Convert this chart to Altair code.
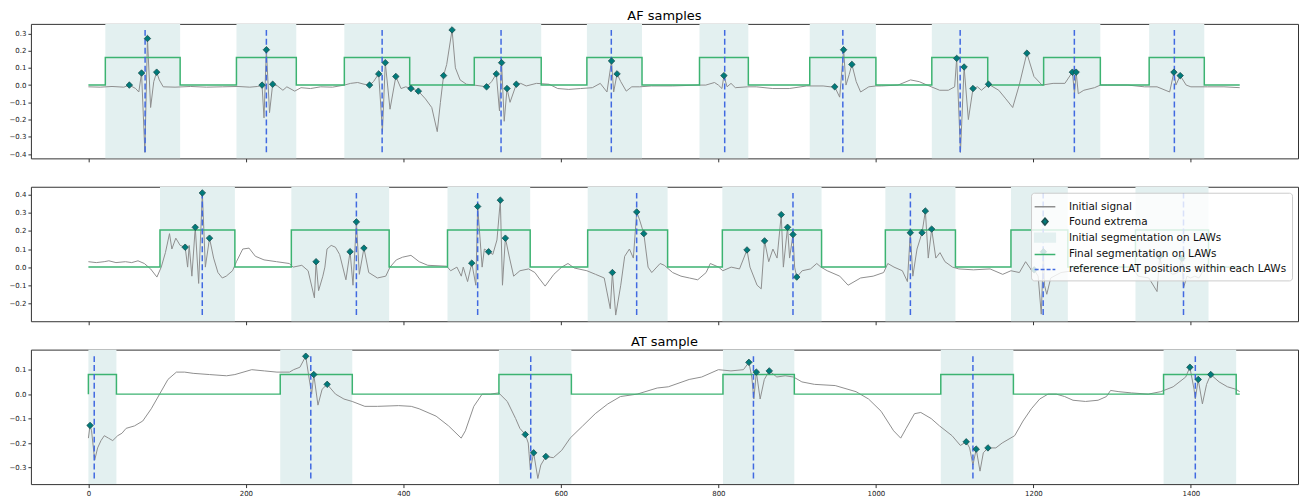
import altair as alt
import pandas as pd

# ---------------- shared axis settings ----------------
X_DOMAIN = [-73, 1536]
X_TICKS = [0, 200, 400, 600, 800, 1000, 1200, 1400]
SIG_END = 1462

# ---------------- panel 1 : AF samples ----------------
p1_sig_x = [0, 15, 30, 45, 52, 60, 64, 67.5, 71.7, 75, 79, 83, 86.7, 90, 95, 110, 130, 150, 170, 190, 205, 215,
            220.5, 223, 226, 230, 234, 240, 247, 252, 262, 270, 282, 295, 310, 325, 333, 342, 350, 357, 362,
            368.6, 373.4, 377, 383, 390.4, 397, 403, 409.6, 419, 428, 436, 443, 447, 451, 455, 461.8, 466, 472,
            480, 490, 505.6, 512, 518, 522, 524.7, 528, 531.6, 535.4, 543.4, 549, 556, 569, 585, 596, 610, 625,
            640, 650, 658.5, 664.3, 667, 671.3, 676, 683, 690, 700, 715, 742, 774, 784, 795, 800, 804.5, 807,
            811, 816, 821.5, 837, 848, 869, 890, 912, 933, 942, 947.7, 954, 959, 962, 966, 969.5, 975, 980.6,
            991, 1000, 1007, 1028, 1044, 1055, 1065, 1081, 1092, 1100, 1102.6, 1107.4, 1112, 1117.4, 1123.3,
            1129, 1134, 1143, 1156, 1165, 1173.7, 1182, 1191.7, 1200.7, 1211, 1225, 1240, 1249.5, 1252.2,
            1254.3, 1257, 1264, 1277.6, 1285, 1294, 1320, 1341, 1357, 1373, 1378.4, 1381, 1386.4, 1394, 1400,
            1421, 1442, 1462]
p1_sig_y = [-0.01, -0.012, -0.008, -0.012, 0.0, -0.02, -0.04, 0.07, -0.39, 0.27, -0.13, 0.02, 0.075, 0.03, -0.01,
            -0.012, -0.008, -0.012, -0.01, -0.008, -0.012, -0.008, 0.0, -0.19, 0.205, -0.16, 0.005, -0.005,
            -0.03, -0.01, -0.035, -0.015, -0.02, -0.01, -0.012, 0.0, 0.01, 0.015, 0.005, 0.0, 0.02, 0.065,
            -0.27, 0.13, -0.14, 0.05, -0.02, -0.01, -0.02, -0.035, -0.08, -0.13, -0.27, -0.1, 0.055, 0.12, 0.32,
            0.1, 0.03, 0.005, 0.0, -0.01, 0.02, 0.065, -0.15, 0.13, -0.21, -0.02, -0.1, 0.005, 0.01, -0.005,
            0.01, 0.005, -0.02, -0.025, -0.02, -0.015, 0.01, -0.04, 0.14, -0.04, 0.065, 0.02, -0.035, -0.01,
            -0.01, -0.005, -0.005, 0.0, 0.0, 0.015, 0.0, -0.02, 0.055, -0.01, 0.01, -0.015, -0.01, -0.01,
            -0.02, -0.02, -0.005, -0.005, -0.01, -0.01, -0.07, 0.205, 0.0, 0.06, 0.12, 0.02, -0.04, -0.01,
            -0.005, -0.005, 0.0, 0.03, 0.02, 0.0, -0.03, -0.03, -0.01, 0.155, -0.39, 0.105, -0.2, -0.02, -0.01,
            -0.03, 0.005, -0.03, -0.08, -0.13, 0.0, 0.185, 0.05, 0.0, 0.01, 0.01, 0.075, -0.05, 0.075, -0.05,
            -0.03, -0.015, 0.0, 0.0, 0.0, -0.01, -0.01, -0.04, 0.075, 0.0, 0.055, 0.0, -0.01, -0.01, -0.01,
            -0.015]
p1_ext_x = [52, 67.5, 75, 86.7, 220.5, 226, 234, 357, 368.6, 377, 390.4, 409.6, 419, 451, 461.8, 505.6, 518,
            524.7, 531.6, 543.4, 664.3, 671.3, 807, 947.7, 959, 969.5, 1102.6, 1112, 1123.3, 1143, 1191.7,
            1249.5, 1254.3, 1378.4, 1386.4]
p1_ext_y = [0.0, 0.07, 0.27, 0.075, 0.0, 0.205, 0.005, 0.0, 0.065, 0.13, 0.05, -0.02, -0.035, 0.055, 0.32,
            -0.01, 0.065, 0.13, -0.02, 0.005, 0.14, 0.065, 0.055, -0.01, 0.205, 0.12, 0.155, 0.105, -0.02,
            0.005, 0.185, 0.075, 0.075, 0.075, 0.055]
p1_shade_start = [21.5, 188, 325, 633, 776, 916, 1071, 1347]
p1_shade_end = [116.5, 264, 575, 703, 838, 1000, 1285, 1417]
p1_seg_start = [21.5, 188, 325, 490, 633, 776, 916, 1071, 1213, 1347]
p1_seg_end = [116.5, 264, 408, 575, 703, 838, 1000, 1142, 1285, 1417]
p1_seg_high = 0.16
p1_lat = [72, 226, 373, 524, 664, 808, 958, 1107, 1252, 1379]
p1_y_domain = [-0.425, 0.355]
p1_y_ticks = [-0.4, -0.3, -0.2, -0.1, 0.0, 0.1, 0.2, 0.3]

# ---------------- panel 2 ----------------
p2_sig_x = [0, 10, 20, 26, 35, 47, 55, 63, 71, 79, 87, 92.5, 97.8, 103, 106, 111, 116.5, 122.9, 126, 128, 131.4,
            135.7, 140, 144.7, 148.5, 153.8, 159, 164.5, 170, 175, 183, 188, 196, 204, 212, 223, 239, 255, 260,
            271, 279, 287, 289.1, 292.3, 297.7, 300.3, 303, 308.3, 313.7, 319, 327, 332.3, 336, 340.3, 344,
            349.9, 356, 367, 377.6, 383, 391, 399, 409.6, 420, 431, 455, 460, 468, 473.5, 476, 481.5, 486.8,
            492, 494.3, 500, 502.8, 508.2, 513.5, 518.8, 523.1, 525.8, 529.5, 534.8, 540, 548, 559, 567, 572,
            580, 591, 601, 609, 617, 633, 644, 655, 662.7, 665.4, 669.6, 676, 681, 687, 692, 696.3, 700, 705.3,
            710.7, 715.4, 726, 731.3, 741.9, 752.5, 763.1, 773.7, 784.4, 789.7, 800.3, 805.6, 816.2, 826.8,
            836.3, 840.1, 849.1, 854.4, 858.6, 863.9, 869.2, 874.5, 879.8, 882.5, 887.8, 890.4, 894.7, 896.8,
            899.5, 906.4, 917, 924.9, 930.2, 938.2, 954.1, 964.7, 980.6, 996.5, 1009.8, 1015.1, 1023, 1033.6,
            1040, 1043.7, 1046.9, 1052.2, 1058.6, 1062.8, 1066.5, 1070.8, 1076.1, 1081.4, 1087.7, 1097.3,
            1105.3, 1123.8, 1145, 1161, 1171.5, 1182.2, 1190.1, 1198.1, 1201, 1206, 1210, 1212.7, 1214, 1217,
            1222, 1235, 1250, 1270, 1290, 1310, 1325, 1333, 1346.6, 1357, 1360.3, 1364, 1370.4, 1377, 1383.7,
            1388.5, 1390.6, 1395, 1399.6, 1405, 1410.2, 1417, 1426, 1440, 1452.7, 1462]
p2_sig_y = [0.03, 0.025, 0.03, 0.035, 0.025, 0.03, 0.025, 0.035, 0.02, -0.01, -0.055, 0.0, 0.08, 0.185, 0.1, 0.16,
            0.12, 0.11, 0.0, 0.12, -0.05, 0.22, -0.09, 0.41, 0.0, 0.16, 0.05, -0.03, -0.06, -0.05, -0.02, 0.03,
            0.1, 0.105, 0.06, 0.04, 0.03, 0.02, 0.0, 0.01, -0.02, -0.17, 0.03, -0.13, -0.05, 0.0, 0.1, 0.12,
            0.11, 0.07, -0.07, 0.085, -0.1, 0.25, -0.04, 0.105, -0.03, -0.06, -0.05, 0.0, 0.04, 0.055, 0.065,
            0.03, 0.01, 0.005, -0.02, 0.0, -0.05, 0.0, -0.08, 0.022, -0.1, 0.335, 0.0, 0.1, 0.085, 0.07, 0.15,
            0.37, -0.1, 0.16, 0.05, -0.05, -0.02, -0.01, -0.03, -0.06, -0.105, -0.04, 0.0, 0.02, -0.005, -0.02,
            -0.04, -0.06, -0.23, -0.03, -0.265, -0.1, 0.06, 0.1, 0.05, 0.305, 0.26, 0.185, 0.0, -0.03, 0.02,
            0.01, -0.03, -0.05, -0.06, -0.07, -0.03, 0.02, 0.0, -0.02, 0.0, -0.01, 0.095, 0.0, -0.1, -0.12,
            0.145, 0.03, 0.1, 0.05, 0.29, 0.0, 0.22, 0.05, 0.18, 0.0, -0.055, -0.02, -0.01, 0.02, 0.0, -0.02,
            -0.05, -0.1, -0.06, -0.05, -0.03, 0.02, 0.0, -0.02, -0.08, 0.19, -0.05, 0.1, 0.19, 0.31, 0.05,
            0.21, 0.05, 0.08, 0.03, 0.0, -0.01, -0.015, -0.01, -0.04, -0.02, -0.03, 0.03, -0.02, -0.015,
            -0.05, -0.26, 0.085, -0.1, -0.15, -0.06, -0.03, -0.02, -0.03, -0.01, 0.0, 0.0, -0.05, -0.06,
            -0.135, 0.058, -0.015, -0.02, -0.04, -0.03, 0.049, -0.115, -0.05, -0.06, -0.05, -0.06, -0.01,
            0.0, 0.0, 0.0, -0.03]
p2_ext_x = [122.9, 135.7, 144.7, 153.8, 289.1, 332.3, 340.3, 349.9, 486.8, 494.3, 508.2, 523.1, 529.5, 665.4,
            696.3, 705.3, 836.3, 858.6, 879.8, 887.8, 894.7, 899.5, 1043.7, 1058.6, 1062.8, 1070.8, 1201,
            1212.7, 1360.3, 1388.5]
p2_ext_y = [0.11, 0.22, 0.41, 0.16, 0.03, 0.085, 0.25, 0.105, 0.022, 0.335, 0.085, 0.37, 0.16, -0.03, 0.305,
            0.185, 0.095, 0.145, 0.29, 0.22, 0.18, -0.055, 0.19, 0.19, 0.31, 0.21, -0.015, 0.085, 0.058, 0.049]
p2_shade_start = [90.9, 257.7, 456, 634, 805, 1012, 1171.5, 1329.6]
p2_shade_end = [186, 381.9, 561, 735.5, 931, 1101, 1243.7, 1422.4]
p2_seg_start = p2_shade_start
p2_seg_end = p2_shade_end
p2_seg_high = 0.205
p2_lat = [144.6, 340.3, 494.3, 696.2, 894.7, 1043.8, 1212.4, 1390.6]
p2_y_domain = [-0.299, 0.444]
p2_y_ticks = [-0.2, -0.1, 0.0, 0.1, 0.2, 0.3, 0.4]

# ---------------- panel 3 : AT sample ----------------
p3_sig_x = [0, 2.1, 4, 8, 11.7, 16, 20.2, 25.5, 30.9, 37.2, 42.6, 47.9, 58.5, 69, 79.8, 90.4, 101, 111.7, 122.3,
            133, 154, 175.5, 186, 207.4, 223.4, 239.4, 255.3, 260.6, 268.6, 276, 280, 283.5, 286.2, 291.5,
            296.8, 303.2, 313.8, 324.5, 335, 351, 367, 394, 410, 420, 441.5, 457.4, 473.4, 478.7, 489.4, 500,
            510.6, 521, 531.9, 542.5, 547.9, 554.8, 558.5, 561.2, 565.4, 570.7, 574.5, 580.9, 590.4, 601, 611.7,
            627.7, 643.6, 659.6, 675.5, 696.8, 722.3, 736.4, 762.9, 778.8, 800, 815.9, 831.8, 838.7, 842.4,
            845, 848.2, 853, 858.3, 864.6, 874.2, 884.8, 895.4, 906, 921.9, 948.3, 974.8, 990.7, 1006.6,
            1022.5, 1031.5, 1038.4, 1049, 1057, 1070.2, 1080.8, 1096.7, 1107.3, 1114.7, 1119, 1123.2, 1127.4,
            1132.2, 1136.4, 1142.3, 1152.3, 1160.3, 1176.2, 1186.8, 1197.4, 1208, 1218.5, 1229.1, 1239.7,
            1250.3, 1266.2, 1282.1, 1292.7, 1298, 1308.6, 1324.5, 1345.7, 1361.6, 1377.5, 1393.4, 1398.7,
            1404, 1405.6, 1409.3, 1414.6, 1419.9, 1425.2, 1435.8, 1446.4, 1457, 1462]
p3_sig_y = [-0.18, -0.128, -0.15, -0.27, -0.22, -0.19, -0.17, -0.18, -0.19, -0.17, -0.16, -0.14, -0.13, -0.11,
            -0.06, 0.0, 0.06, 0.09, 0.09, 0.085, 0.08, 0.075, 0.08, 0.1, 0.095, 0.09, 0.09, 0.1, 0.11, 0.155,
            0.07, 0.0, 0.08, -0.045, 0.02, 0.04, 0.0, -0.02, -0.03, -0.05, -0.05, -0.047, -0.05, -0.06, -0.09,
            -0.13, -0.18, -0.15, -0.05, 0.0, 0.0, 0.005, -0.03, -0.1, -0.14, -0.165, -0.2, -0.31, -0.24, -0.345,
            -0.29, -0.255, -0.26, -0.23, -0.18, -0.13, -0.08, -0.04, -0.01, 0.0, 0.025, 0.03, 0.06, 0.07, 0.1,
            0.095, 0.1, 0.13, 0.07, -0.02, 0.09, -0.02, 0.06, 0.095, 0.07, 0.075, 0.07, 0.05, 0.04, 0.035, 0.01,
            -0.02, -0.07, -0.15, -0.18, -0.14, -0.08, -0.075, -0.1, -0.13, -0.17, -0.21, -0.195, -0.22, -0.29,
            -0.225, -0.315, -0.24, -0.22, -0.22, -0.2, -0.17, -0.11, -0.06, -0.02, 0.0, 0.0, -0.01, -0.025,
            -0.03, -0.025, -0.01, 0.015, 0.01, 0.005, 0.0, 0.01, 0.03, 0.07, 0.11, 0.02, -0.02, 0.06, -0.04,
            0.04, 0.08, 0.05, 0.03, 0.02, 0.01]
p3_ext_x = [2.1, 276, 286.2, 303.2, 554.8, 565.4, 580.9, 838.7, 848.2, 864.6, 1114.7, 1127.4, 1142.3, 1398.7,
            1409.3, 1425.2]
p3_ext_y = [-0.128, 0.155, 0.08, 0.04, -0.165, -0.24, -0.255, 0.13, 0.09, 0.095, -0.195, -0.225, -0.22, 0.11,
            0.06, 0.08]
p3_shade_start = [0, 243.6, 521.3, 805.8, 1082.4, 1365.3]
p3_shade_end = [35.6, 335.1, 613.3, 896.4, 1174.6, 1457.5]
p3_seg_start = p3_shade_start
p3_seg_end = p3_shade_end
p3_seg_high = 0.08
p3_lat = [7.4, 282.4, 561.7, 844.5, 1123.2, 1405.6]
p3_y_domain = [-0.368, 0.182]
p3_y_ticks = [-0.3, -0.2, -0.1, 0.0, 0.1]

# ---------------- legend ----------------
LEG_LABELS = ["Initial signal", "Found extrema", "Initial segmentation on LAWs",
              "Final segmentation on LAWs", "reference LAT positions within each LAWs"]

SHADE = "#e3f0f0"
GREEN = "#3cb371"
BLUE = "#4169e1"
GRAY = "#8f8f8f"
TEAL = "#007b7b"
TEAL_EDGE = "#1d4f4f"

W, H = 1272, 135

LINE_PATH = "M-1.3,0H1.3"
DIAMOND_PATH = "M0,-0.45L0.38,0L0,0.45L-0.38,0Z"
RECT_PATH = "M-1.3,-0.55H1.3V0.55H-1.3Z"


def panel(sig_x, sig_y, ext_x, ext_y, sh_s, sh_e, seg_s, seg_e, high, lat, ydom, yticks,
          title=None, xlabels=False, legend=False):
    sig = pd.DataFrame({"x": sig_x, "y": sig_y})
    ext = pd.DataFrame({"x": ext_x, "y": ext_y})
    shade = pd.DataFrame({"s": sh_s, "e": sh_e})
    sx, sy = [0.0], [0.0]
    for s, e in zip(seg_s, seg_e):
        sx += [s, e]
        sy += [high, 0.0]
    sx.append(SIG_END)
    sy.append(0.0)
    step = pd.DataFrame({"x": sx, "y": sy})
    rules = pd.DataFrame({"x": lat, "lo": [min(sig_y)] * len(lat), "hi": [max(sig_y)] * len(lat)})

    xs = alt.Scale(domain=X_DOMAIN, nice=False, zero=False)
    ys = alt.Scale(domain=ydom, nice=False, zero=False)
    xax = alt.Axis(values=X_TICKS, labels=xlabels, title=None, grid=False, domain=False,
                   tickSize=3.5, labelPadding=2, labelFontSize=7, format="d")
    yax = alt.Axis(values=yticks, title=None, grid=False, domain=False, tickSize=3,
                   labelPadding=2, labelFontSize=7, format=".1f")

    X = lambda f: alt.X(f, type="quantitative", scale=xs, axis=xax)
    Y = lambda f: alt.Y(f, type="quantitative", scale=ys, axis=yax)

    l_shade = alt.Chart(shade).mark_rect(color=SHADE).encode(x=X("s"), x2="e")
    l_sig = alt.Chart(sig).mark_line(color=GRAY, strokeWidth=1).encode(x=X("x"), y=Y("y"))
    l_step = alt.Chart(step).mark_line(color=GREEN, strokeWidth=1.5, interpolate="step-after").encode(
        x=X("x"), y=Y("y"))
    l_rule = alt.Chart(rules).mark_rule(color=BLUE, strokeWidth=1.5, strokeDash=[6, 3]).encode(
        x=X("x"), y=Y("lo"), y2="hi")
    l_pts = alt.Chart(ext).mark_point(shape="diamond", filled=True, size=42, fill=TEAL, stroke=TEAL_EDGE,
                                      strokeWidth=0.8, opacity=1).encode(x=X("x"), y=Y("y"))
    layers = [l_shade, l_sig, l_step, l_rule, l_pts]

    if legend:
        leg = pd.DataFrame({"label": LEG_LABELS, "x": [-10000] * 5, "y": [0.0] * 5})
        lg = alt.Legend(title=None, orient="top-right", offset=6, labelLimit=400)
        l_leg = alt.Chart(leg).mark_point(clip=True, opacity=1, size=256, strokeWidth=1.5).encode(
            x=X("x"), y=Y("y"),
            fill=alt.Fill("label:N", legend=lg, sort=LEG_LABELS,
                          scale=alt.Scale(domain=LEG_LABELS,
                                          range=["transparent", TEAL, SHADE, "transparent", "transparent"])),
            stroke=alt.Stroke("label:N", legend=lg, sort=LEG_LABELS,
                              scale=alt.Scale(domain=LEG_LABELS,
                                              range=[GRAY, TEAL_EDGE, SHADE, GREEN, BLUE])),
            shape=alt.Shape("label:N", legend=lg, sort=LEG_LABELS,
                            scale=alt.Scale(domain=LEG_LABELS,
                                            range=[LINE_PATH, DIAMOND_PATH, RECT_PATH, LINE_PATH, LINE_PATH])),
            strokeDash=alt.StrokeDash("label:N", legend=lg, sort=LEG_LABELS,
                                      scale=alt.Scale(domain=LEG_LABELS,
                                                      range=[[1, 0], [1, 0], [1, 0], [1, 0], [4, 2]])),
        )
        layers.append(l_leg)

    props = dict(width=W, height=H)
    if title:
        props["title"] = alt.Title(title, fontSize=13, font="DejaVu Sans", fontWeight="normal",
                                   offset=1, color="black")
    return alt.layer(*layers).properties(**props)


p1 = panel(p1_sig_x, p1_sig_y, p1_ext_x, p1_ext_y, p1_shade_start, p1_shade_end, p1_seg_start, p1_seg_end,
           p1_seg_high, p1_lat, p1_y_domain, p1_y_ticks, title="AF samples")
p2 = panel(p2_sig_x, p2_sig_y, p2_ext_x, p2_ext_y, p2_shade_start, p2_shade_end, p2_seg_start, p2_seg_end,
           p2_seg_high, p2_lat, p2_y_domain, p2_y_ticks, legend=True)
p3 = panel(p3_sig_x, p3_sig_y, p3_ext_x, p3_ext_y, p3_shade_start, p3_shade_end, p3_seg_start, p3_seg_end,
           p3_seg_high, p3_lat, p3_y_domain, p3_y_ticks, title="AT sample", xlabels=True)

top = alt.vconcat(p1, p2, spacing=22.5).resolve_legend(fill="independent", stroke="independent",
                                                       shape="independent", strokeDash="independent")
chart = alt.vconcat(top, p3, spacing=9).resolve_legend(
    fill="independent", stroke="independent", shape="independent", strokeDash="independent"
).properties(padding=0).configure_view(stroke="#333", strokeWidth=1).configure_axis(
    labelFont="DejaVu Sans", labelColor="#222", tickColor="#333"
).configure_legend(
    fillColor="rgba(255,255,255,0.8)", strokeColor="#cccccc", cornerRadius=3, padding=5,
    labelFont="DejaVu Sans", labelFontSize=10.5, labelColor="#111", labelOffset=15,
    rowPadding=0, symbolSize=256, symbolStrokeWidth=1.5
)

chart.save("out.html", embed_options={"renderer": "svg", "actions": False})
